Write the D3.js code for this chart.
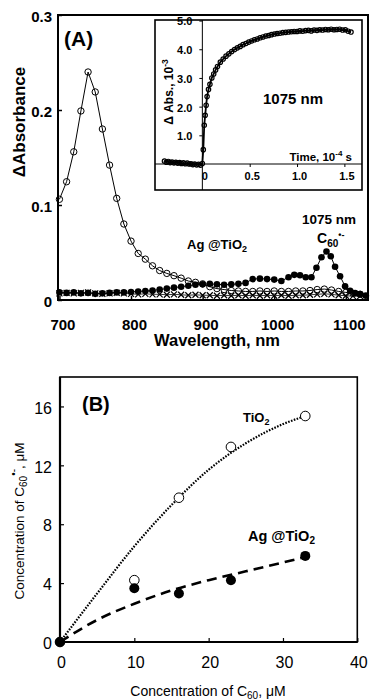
<!DOCTYPE html>
<html>
<head>
<meta charset="utf-8">
<script src="https://cdn.jsdelivr.net/npm/d3@7"></script>
<style>
  body { margin: 0; background: #fff; }
  svg { display: block; font-family: "Liberation Sans", Arial, sans-serif; }
</style>
</head>
<body>
<div id="chart"></div>
<script>
// ---- panel A: transient spectra ----
const wlOpen = [700,710,720,730,740,750,760,770,780,790,800,810,820,830,840,850,860,870,880,890,900,910,920,930,940,950,960,970,980,990,1000,1010,1020,1030,1040,1050,1060,1070,1080,1090,1100,1110,1120];
const absOpen = [0.106,0.1245,0.156,0.199,0.240,0.219,0.180,0.142,0.107,0.080,0.062,0.049,0.043,0.036,0.031,0.028,0.0256,0.023,0.020,0.0186,0.017,0.014,0.012,0.011,0.010,0.0095,0.009,0.009,0.0095,0.009,0.0095,0.009,0.009,0.0095,0.0095,0.010,0.011,0.0115,0.0105,0.009,0.008,0.007,0.006];

const wlFilled = [700,710,720,730,740,750,760,770,780,790,800,810,820,830,840,850,860,870,880,890,900,910,920,930,940,950,960,970,980,990,1000,1010,1020,1028,1036,1044,1052,1059,1066,1073,1079,1085,1092,1099,1106,1113,1120,1128];
const absFilled = [0.008,0.0075,0.008,0.007,0.0075,0.0065,0.007,0.0075,0.008,0.008,0.0085,0.009,0.0095,0.010,0.011,0.012,0.013,0.014,0.015,0.016,0.0165,0.017,0.0165,0.016,0.0165,0.017,0.018,0.022,0.0225,0.022,0.0215,0.020,0.024,0.0265,0.026,0.024,0.024,0.034,0.045,0.051,0.046,0.035,0.025,0.0145,0.0098,0.0074,0.0063,0.0046];

const wlCross = [700,710,720,730,740,750,760,770,780,790,800,810,820,830,840,850,860,870,880,890,900,910,920,930,940,950,960,970,980,990,1000,1010,1020,1030,1040,1050,1060,1070,1080,1090,1100,1110,1120];
const absCross = [0.007,0.0075,0.007,0.0075,0.008,0.007,0.0065,0.007,0.0075,0.007,0.0065,0.006,0.0065,0.006,0.006,0.0055,0.006,0.0055,0.005,0.0055,0.005,0.005,0.0045,0.005,0.0045,0.005,0.0045,0.005,0.0045,0.005,0.0045,0.005,0.0045,0.005,0.005,0.0055,0.006,0.0065,0.006,0.005,0.0045,0.004,0.004];

const ticksA_x = [700,800,900,1000,1100];
const ticksA_y = [0,0.1,0.2,0.3];

// ---- inset: kinetic trace at 1075 nm ----
const tInset = [-0.40,-0.38,-0.36,-0.34,-0.32,-0.30,-0.28,-0.26,-0.24,-0.22,-0.20,-0.18,-0.16,-0.14,-0.12,-0.10,-0.08,-0.06,-0.04,-0.02,
  0,0.01,0.02,0.03,0.04,0.05,0.065,0.08,0.10,0.12,0.14,0.16,0.19,0.22,0.25,0.28,0.31,0.34,0.37,0.40,0.43,0.46,0.49,0.52,0.55,0.58,0.61,0.64,0.67,0.70,0.73,0.76,0.79,0.82,0.85,0.88,0.91,0.94,0.97,1.00,1.03,1.06,1.09,1.12,1.15,1.18,1.21,1.24,1.27,1.30,1.33,1.36,1.39,1.42,1.45,1.48,1.51,1.54,1.57];
const vInset = [0.10,0.06,0.09,0.05,0.07,0.04,0.06,0.03,0.05,0.02,0.04,0.01,0.03,0.0,0.01,-0.02,0.0,-0.03,-0.01,-0.04,
  0.02,0.5,1.35,1.7,2.05,2.35,2.6,2.78,3.0,3.14,3.28,3.4,3.55,3.66,3.76,3.84,3.92,3.99,4.05,4.1,4.16,4.2,4.25,4.29,4.33,4.36,4.4,4.43,4.46,4.48,4.51,4.53,4.55,4.56,4.58,4.59,4.6,4.61,4.62,4.62,4.64,4.63,4.65,4.66,4.64,4.67,4.66,4.68,4.67,4.69,4.68,4.7,4.68,4.69,4.7,4.67,4.68,4.63,4.6];

const ticksI_x = [0,0.5,1.0,1.5];
const ticksI_xLab = ["0","0.5","1.0","1.5"];
const ticksI_y = [1,2,3,4,5];

// ---- panel B: concentrations ----
const concTiO2 = [0,10,16,23,33];
const radTiO2 = [0,4.2,9.8,13.25,15.35];
const concAg = [0,10,16,23,33];
const radAg = [0,3.65,3.3,4.2,5.85];
const fitTiO2X = [0,5,10,15,20,25,30,33];
const fitTiO2Y = [0,3.3,6.5,9.3,11.7,13.5,14.8,15.35];
const fitAgX = [0,5,10,15,20,25,30,34];
const fitAgY = [0,1.5,2.6,3.5,4.2,4.8,5.4,5.9];
const ticksB_x = [0,10,20,30,40];
const ticksB_y = [0,4,8,12,16];

const W = 372, H = 700;
const svg = d3.select("#chart").append("svg").attr("width", W).attr("height", H);

// ================= Panel A =================
const xA = d3.scaleLinear().domain([698,1131]).range([58,368]);
const yA = d3.scaleLinear().domain([0,0.3]).range([300,15]);

const gA = svg.append("g");

const axA_x = gA.append("g").attr("transform", "translate(0,300)")
  .call(d3.axisBottom(xA).tickValues(ticksA_x).tickSize(-4).tickPadding(19).tickFormat(d3.format("d")));
axA_x.select(".domain").remove();
axA_x.selectAll("line").attr("stroke", "#000").attr("stroke-width", 1.5);
axA_x.selectAll("text").attr("dx", 3).attr("font-size", 15).attr("font-weight", "bold").attr("font-family", "Liberation Sans, Arial, sans-serif").attr("fill", "#000");

const axA_y = gA.append("g").attr("transform", "translate(58,0)")
  .call(d3.axisLeft(yA).tickValues(ticksA_y).tickSize(-4).tickPadding(6).tickFormat(d => d === 0 ? "0" : d3.format(".1f")(d)));
axA_y.select(".domain").remove();
axA_y.selectAll("line").attr("stroke", "#000").attr("stroke-width", 1.5);
axA_y.selectAll("text").attr("dy", "0.45em").attr("font-size", 15).attr("font-weight", "bold").attr("font-family", "Liberation Sans, Arial, sans-serif").attr("fill", "#000");

const lineA = (xs, ys) => d3.line().x((d, i) => xA(xs[i])).y((d, i) => yA(ys[i]))(xs);

// open circle series
gA.append("path").attr("d", lineA(wlOpen, absOpen)).attr("fill", "none").attr("stroke", "#000").attr("stroke-width", 1);
gA.selectAll(".open").data(wlOpen).enter().append("circle")
  .attr("cx", d => xA(d)).attr("cy", (d, i) => yA(absOpen[i])).attr("r", 3.2)
  .attr("fill", "none").attr("stroke", "#000").attr("stroke-width", 1);

// crosses
gA.append("path").attr("d", lineA(wlCross, absCross)).attr("fill", "none").attr("stroke", "#000").attr("stroke-width", 0.8);
gA.selectAll(".cross").data(wlCross).enter().append("path")
  .attr("d", "M-3,-3L3,3M-3,3L3,-3")
  .attr("transform", (d, i) => `translate(${xA(d)},${yA(absCross[i])})`)
  .attr("stroke", "#000").attr("stroke-width", 1.2);

// filled circle series
gA.append("path").attr("d", lineA(wlFilled, absFilled)).attr("fill", "none").attr("stroke", "#000").attr("stroke-width", 1);
gA.selectAll(".filled").data(wlFilled).enter().append("circle")
  .attr("cx", d => xA(d)).attr("cy", (d, i) => yA(absFilled[i])).attr("r", 3.3)
  .attr("fill", "#000");

// frame
gA.append("rect").attr("x", 58).attr("y", 15).attr("width", 310).attr("height", 285)
  .attr("fill", "none").attr("stroke", "#000").attr("stroke-width", 2);

gA.append("text").attr("x", 64).attr("y", 46).attr("font-size", 21).attr("font-weight", "bold").text("(A)");
gA.append("text").attr("transform", "translate(25,122) rotate(-90)").attr("text-anchor", "middle")
  .attr("font-size", 17).attr("font-weight", "bold").text("\u0394Absorbance");
gA.append("text").attr("x", 217).attr("y", 346).attr("text-anchor", "middle")
  .attr("font-size", 16.5).attr("font-weight", "bold").text("Wavelength, nm");

const agA = gA.append("text").attr("x", 187).attr("y", 249).attr("font-size", 13).attr("font-weight", "bold");
agA.append("tspan").text("Ag @TiO");
agA.append("tspan").attr("dy", 3).attr("font-size", 9).text("2");

gA.append("text").attr("x", 302).attr("y", 224).attr("font-size", 13.5).attr("font-weight", "bold").text("1075 nm");
const c60 = gA.append("text").attr("x", 317).attr("y", 243).attr("font-size", 14).attr("font-weight", "bold");
c60.append("tspan").text("C");
c60.append("tspan").attr("dy", 4).attr("font-size", 10).text("60");
c60.append("tspan").attr("dy", -9).attr("font-size", 9).text("\u2022-");

// ================= Inset =================
const xI = d3.scaleLinear().domain([-0.5,1.686]).range([155,362]);
const yI = d3.scaleLinear().domain([-0.906,5.02]).range([190,20]);
const gI = svg.append("g");

gI.append("rect").attr("x", 155).attr("y", 20).attr("width", 207).attr("height", 170)
  .attr("fill", "#fff").attr("stroke", "#000").attr("stroke-width", 1.6);
gI.append("line").attr("x1", xI(0)).attr("x2", xI(0)).attr("y1", 20).attr("y2", 190).attr("stroke", "#000").attr("stroke-width", 1);
gI.append("line").attr("x1", 155).attr("x2", 362).attr("y1", yI(0)).attr("y2", yI(0)).attr("stroke", "#000").attr("stroke-width", 1);

const axI_y = gI.append("g").attr("transform", `translate(${xI(0)},0)`)
  .call(d3.axisLeft(yI).tickValues(ticksI_y).tickSize(3).tickPadding(7).tickFormat(d3.format(".1f")));
axI_y.select(".domain").remove();
axI_y.selectAll("text").attr("dy", "0.4em").attr("font-size", 11).attr("font-weight", "bold").attr("font-family", "Liberation Sans, Arial, sans-serif").attr("fill", "#000");

const axI_x = gI.append("g").attr("transform", `translate(0,${yI(0)})`)
  .call(d3.axisBottom(xI).tickValues(ticksI_x).tickSize(3).tickPadding(5).tickFormat((d, i) => ticksI_xLab[i]));
axI_x.select(".domain").remove();
axI_x.selectAll("line").filter(d => d === 0).remove();
axI_x.selectAll("text").attr("dx", 2).attr("font-size", 11).attr("font-weight", "bold").attr("font-family", "Liberation Sans, Arial, sans-serif").attr("fill", "#000");

gI.append("path")
  .attr("d", d3.line().x((d, i) => xI(tInset[i])).y((d, i) => yI(vInset[i]))(tInset))
  .attr("fill", "none").attr("stroke", "#000").attr("stroke-width", 1.8);
gI.selectAll(".kin").data(tInset).enter().append("circle")
  .attr("cx", d => xI(d)).attr("cy", (d, i) => yI(vInset[i])).attr("r", 2.2)
  .attr("fill", "none").attr("stroke", "#000").attr("stroke-width", 1.2);

gI.append("text").attr("x", 263).attr("y", 104).attr("font-size", 15).attr("font-weight", "bold").text("1075 nm");
const tl = gI.append("text").attr("x", 352).attr("y", 161).attr("text-anchor", "end").attr("font-size", 11.5).attr("font-weight", "bold");
tl.append("tspan").text("Time, 10");
tl.append("tspan").attr("dy", -5).attr("font-size", 8).text("-4");
tl.append("tspan").attr("dy", 5).text(" s");
const al = gI.append("text").attr("transform", "translate(173,92) rotate(-90)").attr("text-anchor", "middle")
  .attr("font-size", 12).attr("font-weight", "bold");
al.append("tspan").text("\u0394 Abs., 10");
al.append("tspan").attr("dy", -5).attr("font-size", 8.5).text("-3");

// ================= Panel B =================
const xB = d3.scaleLinear().domain([0,40]).range([60,357.3]);
const yB = d3.scaleLinear().domain([0,18]).range([642,377]);
const gB = svg.append("g");

const axB_x = gB.append("g").attr("transform", "translate(0,642)")
  .call(d3.axisBottom(xB).tickValues(ticksB_x).tickSize(-4).tickPadding(15));
axB_x.select(".domain").remove();
axB_x.selectAll("line").attr("stroke", "#000").attr("stroke-width", 1.2);
axB_x.selectAll("text").attr("dx", 1).attr("font-size", 16).attr("font-family", "Liberation Sans, Arial, sans-serif").attr("fill", "#000");

const axB_y = gB.append("g").attr("transform", "translate(60,0)")
  .call(d3.axisLeft(yB).tickValues(ticksB_y).tickSize(-4).tickPadding(8));
axB_y.select(".domain").remove();
axB_y.selectAll("line").attr("stroke", "#000").attr("stroke-width", 1.2);
axB_y.selectAll("text").attr("dy", "0.42em").attr("font-size", 16).attr("font-family", "Liberation Sans, Arial, sans-serif").attr("fill", "#000");

const fitLine = (xs, ys) => d3.line().curve(d3.curveMonotoneX).x((d, i) => xB(xs[i])).y((d, i) => yB(ys[i]))(xs);
gB.append("path").attr("d", fitLine(fitTiO2X, fitTiO2Y)).attr("fill", "none").attr("stroke", "#000")
  .attr("stroke-width", 2.2).attr("stroke-dasharray", "1.6,1.4");
gB.append("path").attr("d", fitLine(fitAgX, fitAgY)).attr("fill", "none").attr("stroke", "#000")
  .attr("stroke-width", 2.6).attr("stroke-dasharray", "10,6");

gB.selectAll(".ptTi").data(concTiO2).enter().append("circle")
  .attr("cx", d => xB(d)).attr("cy", (d, i) => yB(radTiO2[i])).attr("r", 4.8)
  .attr("fill", "#fff").attr("stroke", "#000").attr("stroke-width", 1);
gB.selectAll(".ptAg").data(concAg).enter().append("circle")
  .attr("cx", d => xB(d)).attr("cy", (d, i) => yB(radAg[i])).attr("r", 5)
  .attr("fill", "#000");

gB.append("rect").attr("x", 60).attr("y", 377).attr("width", 297.3).attr("height", 265)
  .attr("fill", "none").attr("stroke", "#000").attr("stroke-width", 1.6);
gB.append("line").attr("x1", 60).attr("x2", 60).attr("y1", 377).attr("y2", 643).attr("stroke", "#000").attr("stroke-width", 2.2);
gB.append("line").attr("x1", 59).attr("x2", 357.3).attr("y1", 642).attr("y2", 642).attr("stroke", "#000").attr("stroke-width", 2.2);

gB.append("text").attr("x", 82).attr("y", 411).attr("font-size", 20).attr("font-weight", "bold").text("(B)");
const tiB = gB.append("text").attr("x", 243).attr("y", 422).attr("font-size", 13).attr("font-weight", "bold");
tiB.append("tspan").text("TiO");
tiB.append("tspan").attr("dy", 3).attr("font-size", 9).text("2");
const agB = gB.append("text").attr("x", 248).attr("y", 541).attr("font-size", 14.5).attr("font-weight", "bold");
agB.append("tspan").text("Ag @TiO");
agB.append("tspan").attr("dy", 3).attr("font-size", 10).text("2");

const xt = gB.append("text").attr("x", 208).attr("y", 696).attr("text-anchor", "middle").attr("font-size", 14);
xt.append("tspan").text("Concentration of C");
xt.append("tspan").attr("dy", 3).attr("font-size", 10).text("60");
xt.append("tspan").attr("dy", -3).text(", \u03bcM");

const yt = gB.append("text").attr("transform", "translate(24,521) rotate(-90)").attr("text-anchor", "middle").attr("font-size", 13.5);
yt.append("tspan").text("Concentration of C");
yt.append("tspan").attr("dy", 3).attr("font-size", 10).text("60");
yt.append("tspan").attr("dy", -10).attr("font-size", 10).text("\u2022-");
yt.append("tspan").attr("dy", 7).text(", \u03bcM");
</script>
</body>
</html>
